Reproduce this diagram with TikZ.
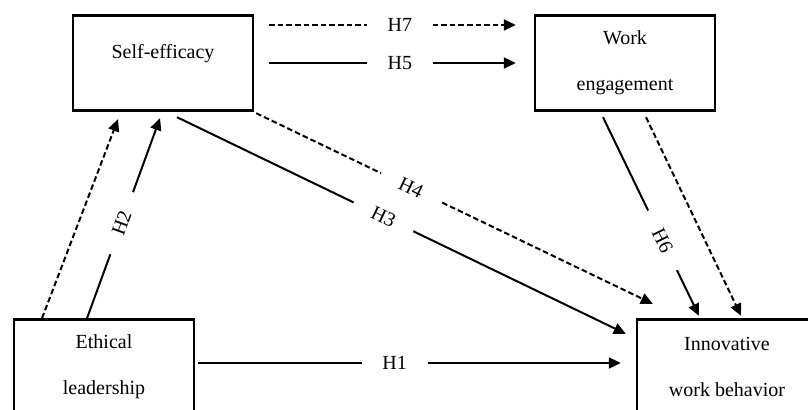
\documentclass[tikz,border=0pt]{standalone}
\usepackage{fontspec}
\setmainfont{Liberation Serif}
\usetikzlibrary{arrows.meta}
\begin{document}
\begin{tikzpicture}[x=0.5pt, y=-0.5pt,
        varbox/.style={rectangle, draw, line width=1.2pt, minimum width=90pt, minimum height=47.5pt,
          align=center, font=\fontsize{10}{23}\selectfont},
        solidarr/.style={line width=1pt, -{Triangle[length=6pt, width=5.5pt]}},
        dasharr/.style={solidarr, dash pattern=on 2.8pt off 1.5pt},
        hlab/.style={fill=white, inner ysep=1pt, minimum width=33pt, font=\fontsize{10}{12}\selectfont}
      ]
      \useasboundingbox (0, 0) rectangle (808, 410);
      % boxes
      \node[varbox, text height=7pt, text depth=11.4pt] at (163, 63) (se) {Self-efficacy};
      \node[varbox] at (625, 63) (we) {Work\\engagement};
      \node[varbox] at (104, 367) (el) {Ethical\\leadership};
      \node[varbox] at (727, 367) (iwb) {Innovative\\work behavior};
      % edges
      \draw[dasharr] ([shift={(15,-38)}]se.east) -- node[hlab, pos=0.53] {H7} ([shift={(-18,-38)}]we.west);
      \draw[solidarr] ([shift={(15,0)}]se.east) -- node[hlab, pos=0.53] {H5} ([shift={(-18,0)}]we.west);
      \draw[solidarr] ([shift={(3,-4)}]el.east) -- node[hlab, pos=0.465] {H1} ([shift={(-15,-4)}]iwb.west);
      \draw[dasharr] ([shift={(-62,0)}]el.north) -- ([shift={(-45,7.5)}]se.south);
      \draw[solidarr] ([shift={(-17,0)}]el.north) -- node[hlab, sloped, pos=0.475] {H2} ([shift={(-3,6.5)}]se.south);
      \draw[solidarr] ([shift={(14,5.5)}]se.south) -- node[hlab, sloped, pos=0.46] {H3} ([shift={(-10,15.5)}]iwb.north west);
      \draw[dasharr] ([shift={(2,1.5)}]se.south east) -- node[hlab, sloped, pos=0.39] {H4} ([shift={(17,-14.5)}]iwb.north west);
      \draw[solidarr] ([shift={(-22,5.5)}]we.south) -- node[hlab, sloped, pos=0.62] {H6} ([shift={(-28,-2.5)}]iwb.north);
      \draw[dasharr] ([shift={(21,5.5)}]we.south) -- ([shift={(14,-2.5)}]iwb.north);
  \end{tikzpicture}
\end{document}
